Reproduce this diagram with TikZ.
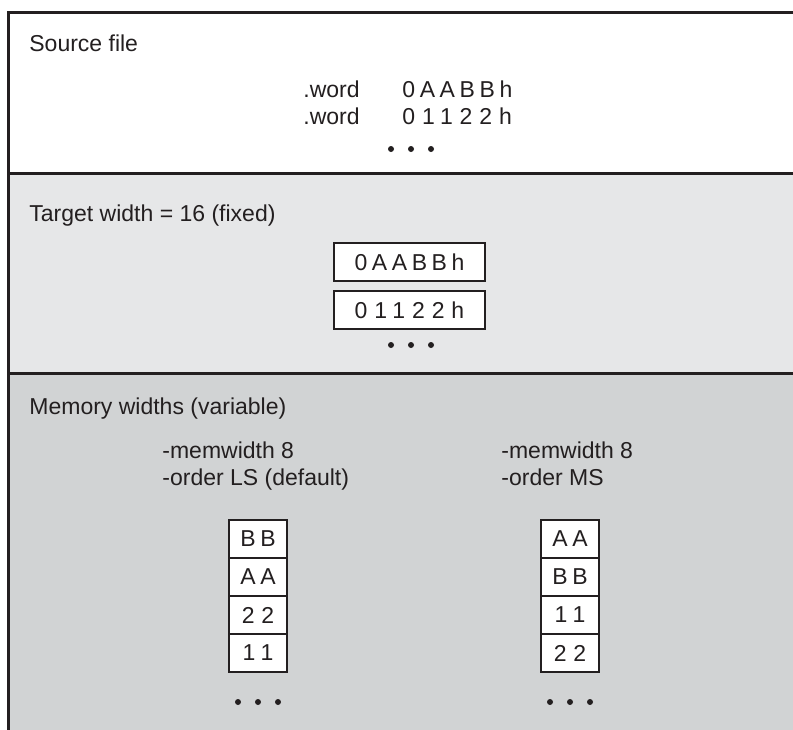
\documentclass[tikz,border=0pt]{standalone}
\usepackage{fontspec}
\setmainfont{Liberation Sans}
\definecolor{ink}{HTML}{231F20}
\definecolor{paneA}{HTML}{E6E7E8}
\definecolor{paneB}{HTML}{D1D3D4}

\begin{document}
\begin{tikzpicture}[x=0.5pt,y=-0.5pt]

        \tikzstyle{every node}=[inner sep=0pt,text=ink,font=\fontsize{11.5}{14}\selectfont]
        \tikzstyle{heading}=[anchor=base west]
        \tikzstyle{spaced}=[font=\fontsize{11.5}{14}\selectfont\addfontfeature{LetterSpace=20}]
        \tikzstyle{wide}=[font=\fontsize{11.5}{14}\selectfont\addfontfeature{LetterSpace=30}]
        \tikzstyle{wordbox}=[draw=ink,line width=1pt,fill=white,minimum width=75.5pt,minimum height=19pt,anchor=north]
        \tikzstyle{cell}=[draw=ink,line width=1pt,fill=white,minimum width=29pt,minimum height=19pt,anchor=north]

        \useasboundingbox (0,0) rectangle (793,729);

        % three panes
        \fill[white] (8,12) rectangle (800,173);
        \fill[paneA] (8,173) rectangle (800,373);
        \fill[paneB] (8,373) rectangle (800,735);
        \draw[ink,line width=1.5pt] (8,735) -- (8,12) -- (800,12);
        \draw[ink,line width=1.5pt] (8,173) -- (800,173);
        \draw[ink,line width=1.5pt] (8,373) -- (800,373);

        % source file
        \node[heading] (src) at (29,51) {Source file};
        \node[heading] (w_1) at (303,97) {.word};
        \node[heading,spaced] (v_1) at (402,97) {0AABBh};
        \node[heading] (w_2) at (303,124) {.word};
        \node[heading,wide] (v_2) at (402,124) {01122h};

        % target width
        \node[heading] (tgt) at (29,221) {Target width = 16 (fixed)};
        \node[wordbox,spaced] (t_1) at (409.5,242) {0AABBh};
        \node[wordbox,wide] (t_2) at (409.5,290) {01122h};

        % memory widths
        \node[heading] (mem) at (29,414) {Memory widths (variable)};
        \node[heading] (ls_1) at (162,458) {-memwidth 8};
        \node[heading] (ls_2) at (162,485) {-order LS (default)};
        \node[heading] (ms_1) at (501,458) {-memwidth 8};
        \node[heading] (ms_2) at (501,485) {-order MS};

        \foreach \i / \a / \sa / \b / \sb in {0/BB/spaced/AA/spaced,1/AA/spaced/BB/spaced,2/22/wide/11/wide,3/11/wide/22/wide} {
            \node[cell,\sa] (l_\i) at (258,519+\i*38) {\a};
            \node[cell,\sb] (m_\i) at (570,519+\i*38) {\b};
        }

        % continuation dots
        \foreach \x / \y in {411/149,411/345,258/702,570/702} {
            \foreach \k in {-1,0,1}
                \fill[ink] (\x+\k*20,\y) circle (3);
        }

    \end{tikzpicture}
\end{document}
